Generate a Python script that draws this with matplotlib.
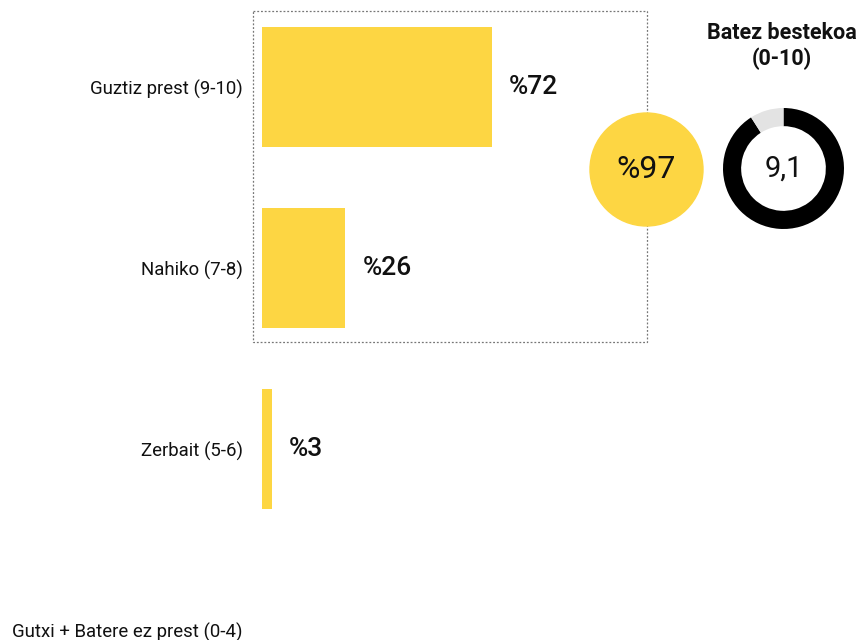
import matplotlib
matplotlib.use("Agg")
import matplotlib.pyplot as plt
from matplotlib.patches import Circle, Rectangle

plt.rcParams['font.family'] = ['Roboto', 'DejaVu Sans']

categories = ['Guztiz prest (9-10)', 'Nahiko (7-8)', 'Zerbait (5-6)', 'Gutxi + Batere ez prest (0-4)']
values = [72, 26, 3, 0]
ready_total = 97
mean_score = 9.1
score_max = 10

yellow = '#FDD643'
W, H = 862, 640
fig = plt.figure(figsize=(W / 100, H / 100), dpi=100)

# bars: value 0 sits at x=262 px, ~3.19 px per percent, rows 181 px apart
ax = fig.add_axes([262 / W, 0, 1 - 262 / W, 1])
ax.set_xlim(0, (W - 262) / 3.19)
ax.set_ylim((H - 87) / 181, -87 / 181)
ypos = list(range(len(categories)))
ax.barh(ypos, values, height=120 / 181, color=yellow, zorder=2)
ax.set_yticks(ypos)
ax.set_yticklabels(categories, fontsize=13.4, color='#111111')
ax.set_xticks([])
ax.tick_params(axis='y', length=0, pad=13.7)
for s in ax.spines.values():
    s.set_visible(False)
ax.patch.set_alpha(0)
for y, v in zip(ypos, values):
    if v > 0:
        ax.annotate('%' + str(v), (v, y), xytext=(12.5, 0), textcoords='offset points',
                    ha='left', va='center', fontsize=19, fontweight='medium',
                    color='#111111')

# overlay in pixel coords for the box and the yellow circle
ov = fig.add_axes([0, 0, 1, 1], zorder=-1)
ov.set_xlim(0, W)
ov.set_ylim(H, 0)
ov.axis('off')
ov.add_patch(Rectangle((253, 10.5), 394, 331, fill=False, ls=(0, (1.5, 1.5)),
                       lw=0.9, ec='#777777'))
ov2 = fig.add_axes([0, 0, 1, 1], zorder=3)
ov2.set_xlim(0, W)
ov2.set_ylim(H, 0)
ov2.axis('off')
ov2.add_patch(Circle((646.5, 169.5), 56.5, color=yellow))
ov2.text(646.5, 170, '%' + str(ready_total), ha='center', va='center', fontsize=23,
         color='#111111')
ov2.text(782, 46, 'Batez bestekoa\n(0-10)', ha='center', va='center', fontsize=15.5,
         fontweight='bold', color='#111111', linespacing=1.15)

# donut for the mean score
r = 60.5
lim = 1.05
sz = 2 * lim * r
cx, cy = 783.5, H - 168.5
dax = fig.add_axes([(cx - sz / 2) / W, (cy - sz / 2) / H, sz / W, sz / H], zorder=3)
dax.pie([mean_score, score_max - mean_score], colors=['#000000', '#E3E3E3'],
        startangle=90, counterclock=False, radius=1,
        wedgeprops=dict(width=0.3, linewidth=0))
dax.set_xlim(-lim, lim)
dax.set_ylim(-lim, lim)
dax.text(0, 0, str(mean_score).replace('.', ','), ha='center', va='center',
         fontsize=21, color='#111111')

fig.savefig('out.png', dpi=100)
